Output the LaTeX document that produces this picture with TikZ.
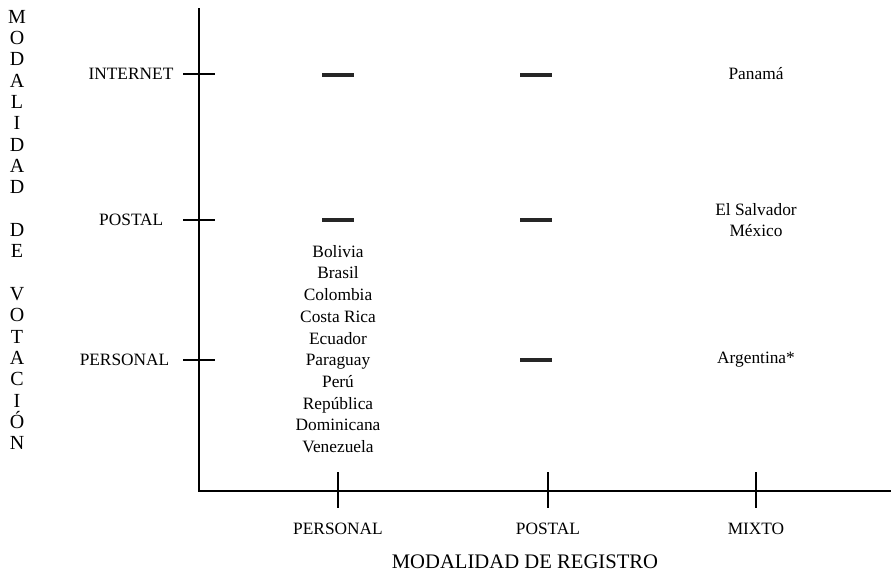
\documentclass[tikz,border=0pt]{standalone}
\usepackage{fontspec}
\setmainfont{Liberation Serif}
\usetikzlibrary{positioning}

\begin{document}
\begin{tikzpicture}[
        x=0.75pt, y=-0.75pt,
        line width=1pt,
        axislabel/.style={font=\fontsize{13}{16}\selectfont, inner sep=0pt},
        country/.style={font=\fontsize{13}{16.3}\selectfont, align=center, inner sep=0pt},
        nodash/.style={fill=black!85, minimum width=24pt, minimum height=3pt, inner sep=0pt},
        axistitle/.style={font=\fontsize{15.5}{16}\selectfont, inner sep=0pt}
    ]
        \useasboundingbox (0,0) rectangle (891,572);

        % Axes
        \coordinate (ytop) at (199,8);
        \coordinate (orig) at (199,491);
        \coordinate (xend) at (891,491);
        \draw (ytop) -- (orig) -- (xend);

        % Ticks
        \foreach \y in {74,220,360}
            \draw (183,\y) -- (215,\y);
        \foreach \x in {338,548,756}
            \draw (\x,472) -- (\x,508);

        % Tick labels
        \node[axislabel, anchor=east] (vinternet) at (174,74) {INTERNET};
        \node[axislabel, anchor=east] (vpostal) at (164,220) {POSTAL};
        \node[axislabel, anchor=east] (vpersonal) at (170,360) {PERSONAL};
        \node[axislabel] (rpersonal) at (338,529) {PERSONAL};
        \node[axislabel] (rpostal) at (548,529) {POSTAL};
        \node[axislabel] (rmixto) at (756,529) {MIXTO};

        % Axis titles
        \node[axistitle] (xtitle) at (525,562) {MODALIDAD DE REGISTRO};
        \node[font=\fontsize{15}{16}\selectfont, align=center, inner sep=0pt] (ytitle) at (17,230)
            {M\\O\\D\\A\\L\\I\\D\\A\\D\\[16pt]D\\E\\[16pt]V\\O\\T\\A\\C\\I\\Ó\\N};

        % Cells
        \node[nodash] (int-per) at (338,75) {};
        \node[nodash] (int-pos) at (536,75) {};
        \node[nodash] (pos-per) at (338,220) {};
        \node[nodash] (pos-pos) at (536,220) {};
        \node[nodash] (per-pos) at (536,360) {};
        \node[country] (int-mix) at (756,74) {Panamá};
        \node[country] (pos-mix) at (756,220) {El Salvador\\México};
        \node[country] (per-mix) at (756,360) {Argentina*};
        \node[country] (per-per) at (338,349) {Bolivia\\Brasil\\Colombia\\Costa Rica\\Ecuador\\Paraguay\\Perú\\República\\Dominicana\\Venezuela};
    \end{tikzpicture}
\end{document}
